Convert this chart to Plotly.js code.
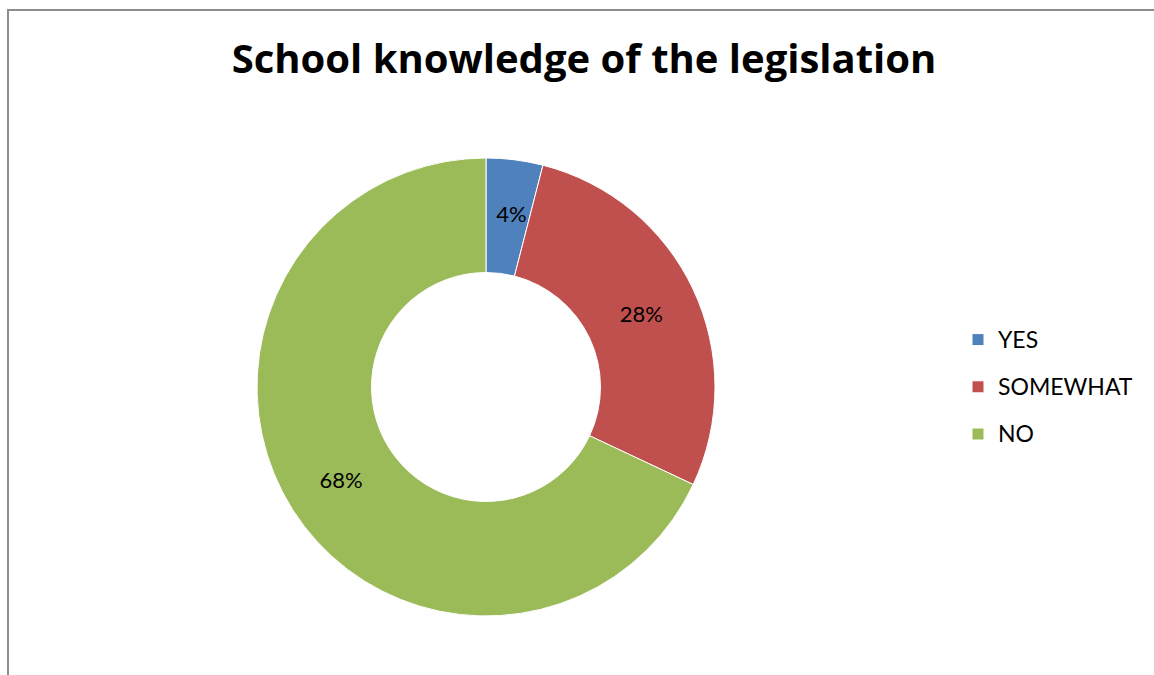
<!DOCTYPE html>
<html>
<head>
<meta charset="utf-8">
<script src="https://cdn.plot.ly/plotly-3.0.1.min.js"></script>
<style>
  html, body { margin: 0; padding: 0; background: #ffffff; }
  #chart { width: 1154px; height: 675px; }
</style>
</head>
<body>
<div id="chart"></div>
<script>
// ---- data ----
const chartTitle = 'School knowledge of the legislation';
const categories = ['YES', 'SOMEWHAT', 'NO'];
const percentValues = [4, 28, 68];
const sliceColors = ['#4F81BD', '#C0504D', '#9BBB59'];

const W = 1154, H = 675;
const cx = 486, cy = 387, R = 229;

const legendLabels = categories.map(c =>
  '<span style="font-size:23px;baseline-shift:5px">' + c + '</span>');

// the narrow first slice gets two blank lead lines so its label sits at mid-ring
const sliceTemplates = percentValues.map((v, i) =>
  (i === 0 ? '&nbsp;<br>&nbsp;<br>' : '') + '%{percent:.0%}');

const trace = {
  type: 'pie',
  values: percentValues,
  labels: legendLabels,
  marker: { colors: sliceColors, line: { color: '#ffffff', width: 1 } },
  hole: 0.5,
  sort: false,
  direction: 'clockwise',
  rotation: 0,
  textinfo: 'percent',
  texttemplate: sliceTemplates,
  textposition: 'inside',
  insidetextorientation: 'horizontal',
  textfont: { family: 'Lato, sans-serif', size: 22, color: '#000000' },
  hoverinfo: 'skip',
  domain: {
    x: [(cx - R) / W, (cx + R) / W],
    y: [1 - (cy + R) / H, 1 - (cy - R) / H]
  }
};

const layout = {
  width: W, height: H,
  margin: { l: 0, r: 0, t: 0, b: 0, pad: 0 },
  paper_bgcolor: '#ffffff',
  plot_bgcolor: '#ffffff',
  title: {
    text: '<b>' + chartTitle + '</b>',
    font: { family: '"Open Sans", sans-serif', size: 40, color: '#000000' },
    x: 584 / W, xref: 'paper', xanchor: 'center',
    y: 1 - 59 / H, yref: 'paper', yanchor: 'middle'
  },
  uniformtext: { mode: 'show', minsize: 22 },
  showlegend: true,
  legend: {
    x: 958 / W, xanchor: 'left',
    y: 1 - 387 / H, yanchor: 'middle',
    font: { family: 'Lato, sans-serif', size: 34, color: '#000000' },
    bgcolor: 'rgba(0,0,0,0)'
  },
  shapes: [
    { type: 'line', xref: 'paper', yref: 'paper',
      x0: 8 / W, x1: 8 / W, y0: 0, y1: 1 - 9 / H,
      line: { color: '#8c8c8c', width: 2 } },
    { type: 'line', xref: 'paper', yref: 'paper',
      x0: 7 / W, x1: 1, y0: 1 - 10 / H, y1: 1 - 10 / H,
      line: { color: '#8c8c8c', width: 2 } }
  ]
};

Plotly.newPlot('chart', [trace], layout, { displayModeBar: false, staticPlot: true });
</script>
</body>
</html>
